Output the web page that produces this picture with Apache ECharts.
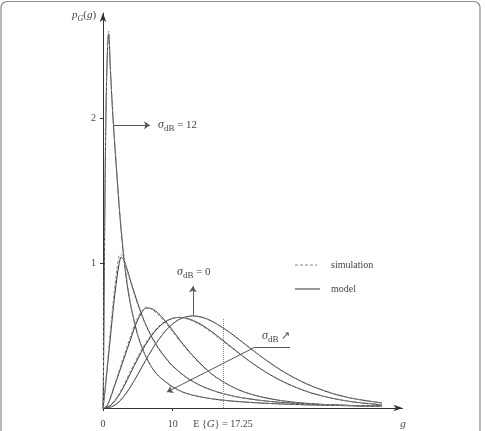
<!DOCTYPE html>
<html>
<head>
<meta charset="utf-8">
<script src="https://cdn.jsdelivr.net/npm/echarts@6/dist/echarts.min.js"></script>
<style>
  html, body { margin: 0; padding: 0; background: #fff; }
  #chart { width: 485px; height: 431px; }
</style>
</head>
<body>
<div id="chart"></div>
<script>
// values: g and p_G(g) for each curve (sigma_dB = 12 ... 0)
var gA = [0, 0.05, 0.1, 0.2, 0.3, 0.4, 0.5, 0.6, 0.7, 0.82, 0.9, 1.0, 1.2, 1.5, 2, 2.5, 3, 3.5, 4, 5, 6, 7, 8, 10, 12, 15, 18, 22, 26, 30, 35, 40];
var modelA = [0, 0.15, 0.4, 1.0, 1.55, 1.95, 2.22, 2.4, 2.53, 2.58, 2.54, 2.40, 2.2, 1.95, 1.6, 1.28, 1.03, 0.84, 0.7, 0.5, 0.37, 0.28, 0.22, 0.145, 0.1, 0.068, 0.05, 0.036, 0.027, 0.021, 0.016, 0.012];
var simA = [0, 0.17, 0.45, 1.05, 1.6, 1.98, 2.25, 2.43, 2.56, 2.6, 2.55, 2.41, 2.21, 1.96, 1.62, 1.3, 1.05, 0.86, 0.71, 0.5, 0.37, 0.28, 0.22, 0.146, 0.1, 0.069, 0.05, 0.036, 0.027, 0.021, 0.016, 0.012];

var gB = [0, 0.25, 0.5, 1, 1.5, 2, 2.3, 2.6, 3, 3.5, 4, 5, 6, 7, 8, 9, 10, 12, 14, 16, 18, 20, 24, 28, 32, 36, 40];
var modelB = [0, 0.1, 0.22, 0.46, 0.7, 0.9, 0.99, 1.04, 1.02, 0.95, 0.87, 0.72, 0.59, 0.49, 0.41, 0.345, 0.29, 0.21, 0.155, 0.117, 0.09, 0.07, 0.045, 0.031, 0.023, 0.017, 0.013];
var simB = [0, 0.11, 0.24, 0.5, 0.75, 0.96, 1.05, 1.06, 1.02, 0.94, 0.86, 0.71, 0.585, 0.485, 0.405, 0.34, 0.287, 0.208, 0.154, 0.116, 0.09, 0.07, 0.045, 0.031, 0.023, 0.017, 0.013];

var gC = [0, 0.5, 1, 1.5, 2, 2.5, 3, 3.5, 4, 4.5, 5, 5.5, 6.2, 7, 8, 9, 10, 11, 12, 13, 14, 15, 16, 18, 20, 22, 24, 26, 28, 30, 33, 36, 40];
var modelC = [0, 0.01, 0.06, 0.13, 0.2, 0.27, 0.34, 0.41, 0.48, 0.55, 0.61, 0.655, 0.69, 0.685, 0.65, 0.595, 0.535, 0.47, 0.41, 0.355, 0.305, 0.26, 0.22, 0.16, 0.115, 0.085, 0.064, 0.048, 0.037, 0.029, 0.021, 0.016, 0.012];
var simC = [0, 0.012, 0.065, 0.14, 0.21, 0.285, 0.36, 0.43, 0.5, 0.57, 0.625, 0.665, 0.695, 0.68, 0.64, 0.585, 0.525, 0.462, 0.404, 0.35, 0.3, 0.257, 0.218, 0.159, 0.115, 0.085, 0.064, 0.048, 0.037, 0.029, 0.021, 0.016, 0.012];

var gD = [0, 1, 2, 3, 4, 5, 6, 7, 8, 9, 10, 11, 12, 13, 14, 15, 16, 18, 20, 22, 24, 26, 28, 30, 33, 36, 40];
var modelD = [0, 0.015, 0.068, 0.149, 0.245, 0.34, 0.428, 0.501, 0.558, 0.596, 0.618, 0.625, 0.619, 0.602, 0.578, 0.547, 0.512, 0.436, 0.36, 0.29, 0.229, 0.178, 0.136, 0.102, 0.066, 0.041, 0.022];
var simD = [0, 0.018, 0.075, 0.16, 0.26, 0.355, 0.44, 0.51, 0.565, 0.6, 0.62, 0.624, 0.615, 0.597, 0.572, 0.541, 0.506, 0.431, 0.357, 0.288, 0.228, 0.178, 0.137, 0.103, 0.067, 0.042, 0.023];

var gE = [0, 1, 2, 3, 4, 5, 6, 7, 8, 9, 10, 11, 12, 13, 14, 15, 16, 18, 20, 22, 24, 26, 28, 30, 33, 36, 40];
var modelE = [0, 0.005, 0.03, 0.08, 0.15, 0.232, 0.318, 0.4, 0.473, 0.534, 0.581, 0.613, 0.63, 0.635, 0.6285, 0.6126, 0.589, 0.527, 0.454, 0.3795, 0.3095, 0.247, 0.194, 0.15, 0.099, 0.064, 0.035];
var simE = [0, 0.006, 0.032, 0.083, 0.153, 0.235, 0.32, 0.402, 0.474, 0.534, 0.58, 0.611, 0.628, 0.633, 0.627, 0.611, 0.588, 0.527, 0.455, 0.381, 0.311, 0.249, 0.196, 0.152, 0.1, 0.065, 0.036];

var xTicks = [0, 10];
var yTicks = [1, 2];
var meanG = 17.25;

// annotation arrows, in data coordinates
var arrow12 = [[1.51, 1.95], [6.74, 1.95]];
var arrow0 = [[12.9, 0.64], [12.9, 0.84]];
var arrowSigma = [[26.83, 0.42], [21.81, 0.42], [9.18, 0.11]];

function pairs(g, p) {
  var out = [];
  for (var i = 0; i < g.length; i++) out.push([g[i], p[i]]);
  return out;
}

var serif = 'Liberation Serif';
var txt = '#444';
var simColor = '#888';
var modelColor = '#333';
var chart = echarts.init(document.getElementById('chart'));

var curves = [[gA, modelA, simA], [gB, modelB, simB], [gC, modelC, simC], [gD, modelD, simD], [gE, modelE, simE]];
var series = [];
curves.forEach(function (c) {
  series.push({
    name: 'simulation', type: 'line', data: pairs(c[0], c[2]), symbol: 'none', smooth: 0.3,
    lineStyle: { type: [3, 2], width: 1, color: simColor }, z: 3
  });
  series.push({
    name: 'model', type: 'line', data: pairs(c[0], c[1]), symbol: 'none', smooth: 0.3,
    lineStyle: { width: 1, color: modelColor }, z: 2
  });
});

// dotted mean line and the arrows
function seg(a, b, endSym) {
  return [{ coord: a, symbol: 'none' }, { coord: b, symbol: endSym || 'none' }];
}
series[1].markLine = {
  silent: true, animation: false, symbolSize: 6,
  label: { show: false },
  lineStyle: { color: '#555', width: 1, type: 'solid' },
  data: [
    [{ coord: [meanG, 0], symbol: 'none', lineStyle: { type: 'dotted', color: '#888' } }, { coord: [meanG, 0.62], symbol: 'none' }],
    seg(arrow12[0], arrow12[1], 'arrow'),
    seg(arrow0[0], arrow0[1], 'arrow'),
    seg(arrowSigma[0], arrowSigma[1]),
    seg(arrowSigma[1], arrowSigma[2], 'arrow')
  ]
};

var rich = {
  s: { fontFamily: serif, fontStyle: 'italic', fontSize: 12, lineHeight: 16, fill: txt },
  sub: { fontFamily: serif, fontSize: 9, lineHeight: 9, verticalAlign: 'bottom', fill: txt },
  subi: { fontFamily: serif, fontStyle: 'italic', fontSize: 8, lineHeight: 8, verticalAlign: 'bottom', fill: txt },
  i: { fontFamily: serif, fontStyle: 'italic', fontSize: 11, lineHeight: 16, fill: txt },
  n: { fontFamily: serif, fontSize: 11, lineHeight: 16, fill: txt }
};
function label(x, y, text, align) {
  return {
    type: 'text', x: x, y: y, silent: true,
    style: { text: text, rich: rich, fill: txt, font: '10px ' + serif, align: align || 'left', verticalAlign: 'middle' }
  };
}
function legendLine(y, color, dash, x2) {
  return {
    type: 'line', silent: true, shape: { x1: 295, y1: y, x2: x2, y2: y },
    style: { stroke: color, lineWidth: 1, lineDash: dash }
  };
}

chart.setOption({
  animation: false,
  grid: { left: 103, right: 82.5, top: 13, bottom: 23 },
  xAxis: {
    type: 'value', min: 0, max: 42.97, interval: 10,
    axisLine: { show: true, symbol: ['none', 'arrow'], symbolSize: [5, 9], lineStyle: { color: '#333', width: 1 } },
    axisTick: { show: true, customValues: xTicks, length: 3, lineStyle: { color: '#333' } },
    axisLabel: { customValues: xTicks, margin: 11, fontFamily: serif, fontSize: 10, color: txt },
    splitLine: { show: false }
  },
  yAxis: {
    type: 'value', min: 0, max: 2.724, interval: 1,
    axisLine: { show: true, symbol: ['none', 'arrow'], symbolSize: [5, 9], lineStyle: { color: '#333', width: 1 } },
    axisTick: { show: true, customValues: yTicks, length: 3, lineStyle: { color: '#333' } },
    axisLabel: { customValues: yTicks, margin: 7, fontFamily: serif, fontSize: 10, color: txt },
    splitLine: { show: false }
  },
  graphic: [
    { type: 'rect', silent: true, z: -10, shape: { x: 1, y: 1.5, width: 479, height: 445, r: 6 },
      style: { fill: 'none', stroke: '#8a8a8a', lineWidth: 1.2 } },
    legendLine(265, simColor, [3, 2], 317),
    legendLine(289, modelColor, null, 320),
    label(331, 265, 'simulation'),
    label(331, 289, 'model'),
    label(72, 15, '{i|p}{subi|G}{n|(}{i|g}{n|)}'),
    label(158, 125, '{s|σ}{sub|dB}{n| = 12}'),
    label(177, 272, '{s|σ}{sub|dB}{n| = 0}'),
    label(262, 336, '{s|σ}{sub|dB}{n| ↗}'),
    label(223, 424, 'E {{i|G}} = 17.25', 'center'),
    label(403, 424, '{i|g}', 'center')
  ],
  series: series
});
</script>
</body>
</html>
